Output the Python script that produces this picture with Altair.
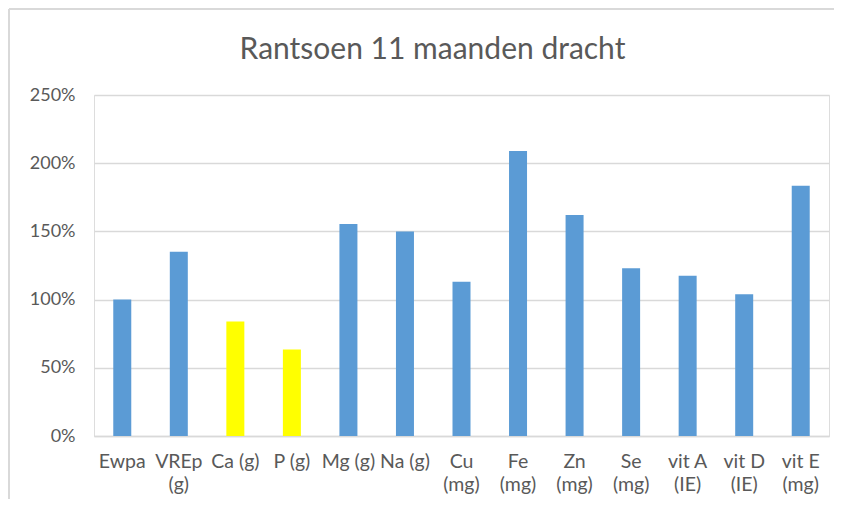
import altair as alt
import pandas as pd

categories = ["Ewpa", "VREp|(g)", "Ca (g)", "P (g)", "Mg (g)", "Na (g)", "Cu|(mg)",
              "Fe|(mg)", "Zn|(mg)", "Se|(mg)", "vit A|(IE)", "vit D|(IE)", "vit E|(mg)"]
values = [1.00, 1.35, 0.84, 0.635, 1.555, 1.50, 1.13, 2.09, 1.62, 1.23, 1.175, 1.04, 1.835]
colors = ["#5B9BD5", "#5B9BD5", "#FFFF00", "#FFFF00", "#5B9BD5", "#5B9BD5", "#5B9BD5",
          "#5B9BD5", "#5B9BD5", "#5B9BD5", "#5B9BD5", "#5B9BD5", "#5B9BD5"]
y_ticks = [0, 0.5, 1.0, 1.5, 2.0, 2.5]
title_text = "Rantsoen 11 maanden dracht"

df = pd.DataFrame({"cat": categories, "val": values, "col": colors})

FONT = "Lato"
GREY = "#595959"
GRID = "#D9D9D9"

W, H = 735, 341

bars = alt.Chart(df).mark_bar(size=18).encode(
    x=alt.X("cat:N", sort=categories, title=None,
            scale=alt.Scale(paddingInner=0.68, paddingOuter=0.34),
            axis=alt.Axis(labelExpr="split(datum.label, '|')", labelAngle=0,
                          labelFont=FONT, labelFontSize=19.5, labelColor=GREY,
                          labelLineHeight=23, labelPadding=16, labelBaseline="top",
                          ticks=False, domainColor=GRID, domainWidth=1.5,
                          labelOverlap=False)),
    y=alt.Y("val:Q", title=None,
            scale=alt.Scale(domain=[0, 2.5], nice=False),
            axis=alt.Axis(values=y_ticks, format=".0%", labelFont=FONT, labelFontSize=18,
                          labelColor=GREY, labelPadding=19, ticks=False, domain=False,
                          gridColor=GRID, gridWidth=1.5)),
    color=alt.Color("col:N", scale=None),
)

frame_left = alt.Chart(df).mark_rule(color=GRID, strokeWidth=2, clip=False).encode(
    x=alt.value(-85), y=alt.value(-86), y2=alt.value(H + 63)
)
frame_top = alt.Chart(df).mark_rule(color=GRID, strokeWidth=2, clip=False).encode(
    x=alt.value(-85), x2=alt.value(W + 5), y=alt.value(-86)
)

chart = alt.layer(bars, frame_left, frame_top).properties(
    width=W, height=H,
    title=alt.TitleParams(title_text, font=FONT, fontSize=30, fontWeight="normal",
                          color=GREY, anchor="middle", dx=-29, offset=-57),
    padding=0,
).configure_view(stroke=None).configure(background="white")

chart.save("out.html", embed_options={"renderer": "svg", "actions": False})
